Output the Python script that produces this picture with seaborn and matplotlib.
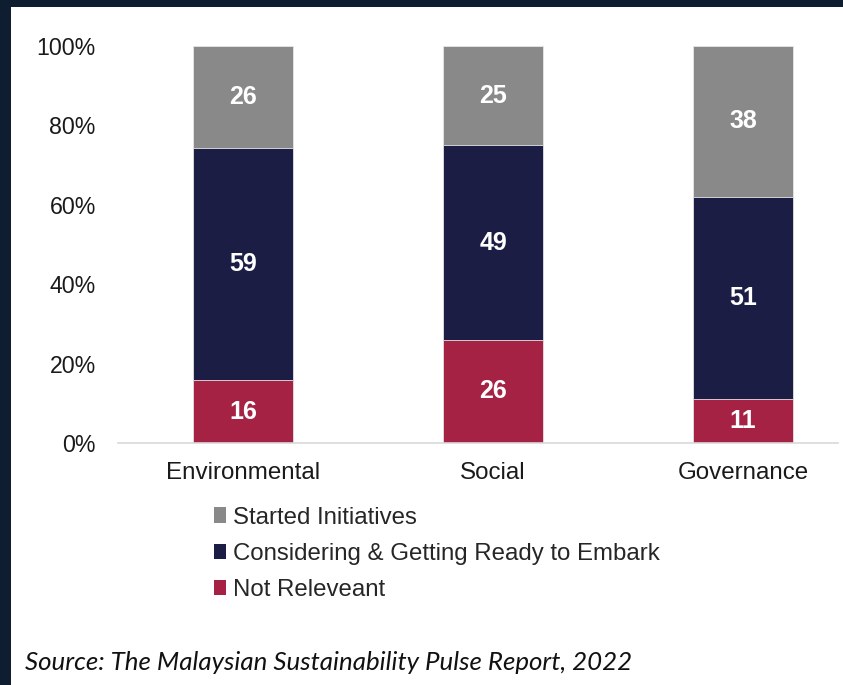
import matplotlib
matplotlib.use("Agg")
import matplotlib.pyplot as plt
import seaborn as sns
import numpy as np
import pandas as pd
from matplotlib.patches import Rectangle, Patch
from matplotlib.ticker import FuncFormatter

categories = ["Environmental", "Social", "Governance"]
not_relevant = [16, 26, 11]
considering = [59, 49, 51]
started = [26, 25, 38]
series_names = ["Started Initiatives", "Considering & Getting Ready to Embark", "Not Releveant"]
colors = {"Started Initiatives": "#898989",
          "Considering & Getting Ready to Embark": "#1c1d45",
          "Not Releveant": "#a52244"}
yticks = [0, 20, 40, 60, 80, 100]
source = "Source: The Malaysian Sustainability Pulse Report, 2022"

sns.set_theme(style="white")
plt.rcParams["font.family"] = ["Liberation Sans", "DejaVu Sans"]

W, H = 843, 685
fig = plt.figure(figsize=(W / 100, H / 100), dpi=100)
fig.patch.set_facecolor("#0e1d30")
fig.add_artist(Rectangle((11 / W, 0), 1 - 11 / W, (H - 7) / H, transform=fig.transFigure,
                         facecolor="white", edgecolor="none", zorder=0))

ax = fig.add_axes([118 / W, (H - 443) / H, (838 - 118) / W, (443 - 46) / H])
ax.set_facecolor("none")

nr = np.array(not_relevant, float)
co = np.array(considering, float)
st = np.array(started, float)
tot = nr + co + st
nr_p, co_p, st_p = nr / tot * 100, co / tot * 100, st / tot * 100

df = pd.DataFrame({"cat": categories,
                   "top": nr_p + co_p + st_p,
                   "mid": nr_p + co_p,
                   "low": nr_p})

for col, name in [("top", series_names[0]), ("mid", series_names[1]), ("low", series_names[2])]:
    sns.barplot(data=df, x="cat", y=col, color=colors[name], width=0.4, ax=ax,
                saturation=1, edgecolor="#e6e6e6", linewidth=0.6)

# value labels
for i in range(len(categories)):
    segs = [(0, nr_p[i], not_relevant[i]),
            (nr_p[i], nr_p[i] + co_p[i], considering[i]),
            (nr_p[i] + co_p[i], 100, started[i])]
    for b, t, v in segs:
        ax.text(i, (b + t) / 2, f"{v}", ha="center", va="center", color="white",
                fontsize=18, fontweight="bold")

ax.set_ylim(0, 100)
ax.set_xlim(-0.5, 2.38)
ax.set_yticks(yticks)
ax.yaxis.set_major_formatter(FuncFormatter(lambda v, p: f"{v:.0f}%"))
ax.set_xlabel("")
ax.set_ylabel("")
ax.tick_params(axis="y", length=0, pad=16, labelsize=16.7, labelcolor="#1a1a1a")
ax.tick_params(axis="x", length=0, pad=13.5, labelsize=17.4, labelcolor="#1a1a1a")
for s in ["top", "right", "left"]:
    ax.spines[s].set_visible(False)
ax.spines["bottom"].set_color("#d9d9d9")
ax.spines["bottom"].set_linewidth(1.2)
ax.grid(False)

handles = [Patch(facecolor=colors[n], edgecolor="none", label=n) for n in series_names]
fig.legend(handles=handles, loc="upper left", bbox_to_anchor=(214 / W, 1 - 506.5 / H),
           frameon=False, fontsize=17.3, handlelength=0.5, handleheight=0.6,
           handletextpad=0.3, labelspacing=0.6, borderaxespad=0, borderpad=0)

fig.text(25 / W, 1 - 662.5 / H, source, ha="left", va="center", fontsize=18.6,
         fontstyle="italic", family=["Lato", "DejaVu Sans"], color="#111111")

fig.savefig("out.png", dpi=100, facecolor=fig.get_facecolor())
